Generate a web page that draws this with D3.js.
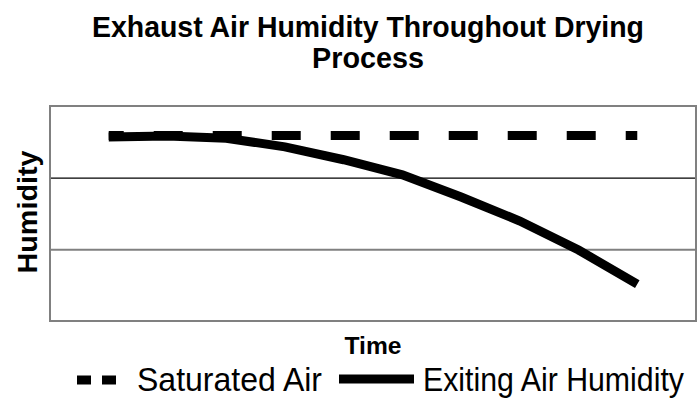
<!DOCTYPE html>
<meta charset="utf-8">
<style>
body { margin: 0; background: #fff; }
text { font-family: "Liberation Sans", Arimo, Arial, Helvetica, sans-serif; fill: #000; }
.grid .domain { display: none; }
</style>
<svg width="698" height="402"></svg>
<script src="https://d3js.org/d3.v7.min.js"></script>
<script>

// categories along the time axis (no labels shown)
var timeSteps = [1, 2, 3, 4, 5, 6, 7, 8, 9, 10];
// series values
var saturatedAir = [2.59, 2.59, 2.59, 2.59, 2.59, 2.59, 2.59, 2.59, 2.59, 2.59];
var exitingAir = [2.567, 2.58, 2.55, 2.43, 2.25, 2.04, 1.73, 1.395, 0.99, 0.515];
var gridTicks = [1, 2];
var seriesNames = ["Saturated Air", "Exiting Air Humidity"];

var svg = d3.select("svg"),
    margin = {top: 106, right: 2, bottom: 81, left: 50},
    width = 698 - margin.left - margin.right,
    height = 402 - margin.top - margin.bottom;

var x = d3.scaleLinear().domain([0, 11]).range([0, width]);
var y = d3.scaleLinear().domain([0, 3]).range([height, 0]);

var g = svg.append("g").attr("transform", "translate(" + margin.left + "," + margin.top + ")");

// horizontal gridlines
var grid = g.append("g")
    .attr("class", "grid")
    .call(d3.axisLeft(y).tickValues(gridTicks).tickSize(-width).tickFormat(""));
grid.selectAll(".tick line")
    .attr("stroke", function(d) { return d == 2 ? "#000" : "#808080"; })
    .attr("stroke-width", function(d) { return d == 2 ? 1.3 : 2; });

// plot frame
g.append("rect")
    .attr("width", width)
    .attr("height", height)
    .attr("fill", "none")
    .attr("stroke", "#808080")
    .attr("stroke-width", 2);

var line = d3.line()
    .x(function(d, i) { return x(timeSteps[i]); })
    .y(function(d) { return y(d); });

g.append("path")
    .datum(exitingAir)
    .attr("d", line)
    .attr("fill", "none")
    .attr("stroke", "#000")
    .attr("stroke-width", 9);

g.append("path")
    .datum(saturatedAir)
    .attr("d", line)
    .attr("fill", "none")
    .attr("stroke", "#000")
    .attr("stroke-width", 9)
    .attr("stroke-dasharray", "29,30")
    .attr("stroke-dashoffset", 14);

// title
svg.append("text")
    .attr("x", 368).attr("y", 37)
    .attr("text-anchor", "middle")
    .style("font-size", "30px").style("font-weight", "bold")
    .attr("textLength", 552).attr("lengthAdjust", "spacingAndGlyphs")
    .text("Exhaust Air Humidity Throughout Drying");
svg.append("text")
    .attr("x", 368).attr("y", 68)
    .attr("text-anchor", "middle")
    .style("font-size", "30px").style("font-weight", "bold")
    .attr("textLength", 112).attr("lengthAdjust", "spacingAndGlyphs")
    .text("Process");

// axis titles
svg.append("text")
    .attr("x", margin.left + width / 2).attr("y", 354)
    .attr("text-anchor", "middle")
    .style("font-size", "23px").style("font-weight", "bold")
    .attr("textLength", 57).attr("lengthAdjust", "spacingAndGlyphs")
    .text("Time");
svg.append("text")
    .attr("transform", "translate(37,212) rotate(-90)")
    .attr("text-anchor", "middle")
    .style("font-size", "28px").style("font-weight", "bold")
    .attr("textLength", 123).attr("lengthAdjust", "spacingAndGlyphs")
    .text("Humidity");

// legend
var legend = svg.append("g");
legend.append("line")
    .attr("x1", 77).attr("x2", 117).attr("y1", 380).attr("y2", 380)
    .attr("stroke", "#000").attr("stroke-width", 9)
    .attr("stroke-dasharray", "14,11");
legend.append("text")
    .attr("x", 137).attr("y", 391)
    .style("font-size", "33px")
    .attr("textLength", 185).attr("lengthAdjust", "spacingAndGlyphs")
    .text(seriesNames[0]);
legend.append("line")
    .attr("x1", 339).attr("x2", 414).attr("y1", 379).attr("y2", 379)
    .attr("stroke", "#000").attr("stroke-width", 9);
legend.append("text")
    .attr("x", 423).attr("y", 391)
    .style("font-size", "33px")
    .attr("textLength", 261).attr("lengthAdjust", "spacingAndGlyphs")
    .text(seriesNames[1]);

</script>
